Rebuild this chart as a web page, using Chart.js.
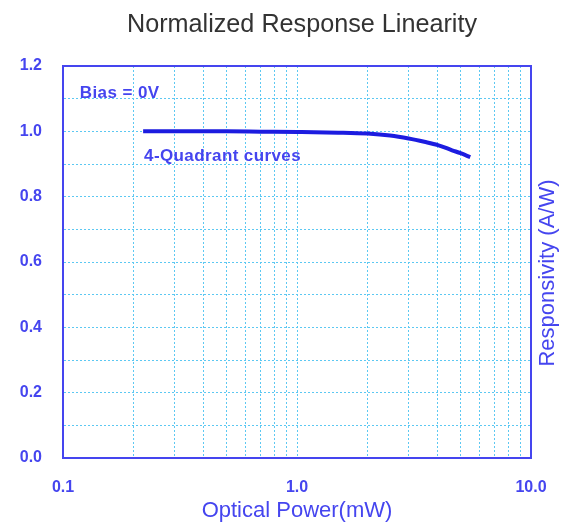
<!DOCTYPE html>
<html>
<head>
<meta charset="utf-8">
<script src="https://cdn.jsdelivr.net/npm/chart.js@4"></script>
<style>
  html, body { margin: 0; padding: 0; background: #fff; }
  #wrap { width: 567px; height: 526px; }
</style>
</head>
<body>
<div id="wrap"><canvas id="chart" width="567" height="526"></canvas></div>
<script>
// optical power (mW) and normalized responsivity
const powerMW = [0.22, 0.3, 0.4, 0.5, 0.7, 1.0, 1.5, 2.0, 2.5, 3.0, 3.5, 4.0, 4.6, 5.0, 5.5];
const responsivity = [1.0, 1.0, 1.0, 1.0, 0.999, 0.998, 0.996, 0.993, 0.987, 0.978, 0.968, 0.958, 0.942, 0.933, 0.921];

const xTicks = [0.1, 0.2, 0.3, 0.4, 0.5, 0.6, 0.7, 0.8, 0.9, 1, 2, 3, 4, 5, 6, 7, 8, 9, 10];
const xLabels = { 0.1: '0.1', 1: '1.0', 10: '10.0' };

const notes = [
  { text: 'Bias = 0V', x: 0.118, y: 1.115 },
  { text: '4-Quadrant curves', x: 0.222, y: 0.924 }
];

const BLUE = '#4545ef';
const GRID = '#5cc8f2';
const FONT = '"Liberation Sans", Arial, sans-serif';

// squeeze a font size so the text fills a given width
function fitFont(ctx, text, family, width, size) {
  ctx.font = size + 'px ' + family;
  const w = ctx.measureText(text).width;
  return (size * width / w).toFixed(1) + 'px ' + family;
}

const extras = {
  id: 'extras',
  afterDraw(chart) {
    const { ctx, chartArea: a, scales } = chart;
    ctx.save();
    // frame
    ctx.strokeStyle = BLUE;
    ctx.lineWidth = 2;
    ctx.strokeRect(a.left, a.top, a.right - a.left, a.bottom - a.top);
    // notes
    ctx.fillStyle = BLUE;
    ctx.font = 'bold 17px ' + FONT;
    ctx.letterSpacing = '0.4px';
    ctx.textAlign = 'left';
    ctx.textBaseline = 'middle';
    notes.forEach(n => {
      ctx.fillText(n.text, scales.x.getPixelForValue(n.x), scales.y.getPixelForValue(n.y));
    });
    ctx.letterSpacing = '0px';
    // title
    const title = 'Normalized Response Linearity';
    ctx.fillStyle = '#333';
    ctx.font = fitFont(ctx, title, '"Liberation Sans Narrow", "Liberation Sans", Arial, sans-serif', 350, 28);
    ctx.textAlign = 'center';
    ctx.textBaseline = 'alphabetic';
    ctx.fillText(title, 302, 32);
    // right axis title
    ctx.fillStyle = BLUE;
    ctx.font = '22px ' + FONT;
    ctx.textBaseline = 'middle';
    ctx.translate(548, 273);
    ctx.rotate(-Math.PI / 2);
    ctx.fillText('Responsivity (A/W)', 0, 0);
    ctx.restore();
  }
};

new Chart(document.getElementById('chart').getContext('2d'), {
  type: 'line',
  data: {
    datasets: [{
      data: powerMW.map((p, i) => ({ x: p, y: responsivity[i] })),
      borderColor: '#1c1ce0',
      borderWidth: 4,
      pointRadius: 0,
      cubicInterpolationMode: 'monotone',
      fill: false
    }]
  },
  options: {
    responsive: false,
    animation: false,
    layout: { padding: { top: 66, right: 36, left: 0, bottom: 0 } },
    plugins: { legend: { display: false }, tooltip: { enabled: false } },
    scales: {
      x: {
        type: 'logarithmic',
        min: 0.1,
        max: 10,
        afterBuildTicks: (s) => { s.ticks = xTicks.map(v => ({ value: v })); },
        afterFit: (s) => { s.height = 526 - 458; },
        ticks: {
          autoSkip: false,
          maxRotation: 0,
          padding: 20,
          color: BLUE,
          font: { family: FONT, size: 16, weight: 'bold' },
          callback: (v) => xLabels[v] || ''
        },
        grid: { color: GRID, lineWidth: 1, drawTicks: false },
        border: { display: true, color: BLUE, width: 2, dash: [2, 2] },
        title: {
          display: true,
          text: 'Optical Power(mW)',
          color: BLUE,
          font: { family: FONT, size: 22 },
          padding: { top: 0, bottom: 2 }
        }
      },
      y: {
        min: 0,
        max: 1.2,
        afterFit: (s) => { s.width = 63; },
        ticks: {
          stepSize: 0.1,
          padding: 21,
          color: BLUE,
          font: { family: FONT, size: 16, weight: 'bold' },
          callback: (v) => (Math.round(v * 10) % 2 === 0 ? v.toFixed(1) : '')
        },
        grid: { color: GRID, lineWidth: 1, drawTicks: false },
        border: { display: true, color: BLUE, width: 2, dash: [2, 2] }
      }
    }
  },
  plugins: [extras]
});
</script>
</body>
</html>
